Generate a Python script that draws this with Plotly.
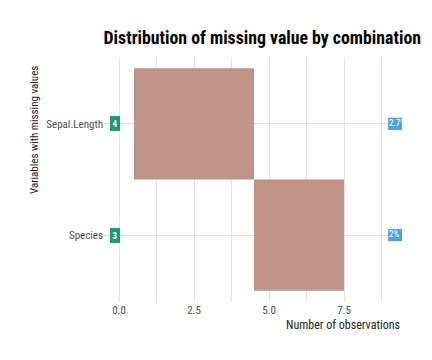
import plotly.graph_objects as go

variables = ["Sepal.Length", "Species"]
counts = [4, 3]
pct_labels = ["2.7%", "2%"]
row_pos = [2, 1]
bar_start = [0.5, 4.5]
x_tick_vals = [0, 2.5, 5, 7.5]
x_tick_text = ["0.0", "2.5", "5.0", "7.5"]

FONT = "Roboto Condensed, Liberation Sans Narrow, DejaVu Sans Condensed, Roboto, sans-serif"

fig = go.Figure()

fig.add_trace(go.Bar(
    y=row_pos, x=counts, base=bar_start, orientation="h", width=1,
    marker=dict(color="#bf9388", line=dict(width=0)), showlegend=False,
    hoverinfo="skip",
))

# right-hand percentage badges (clipped at the panel edge)
fig.add_trace(go.Bar(
    y=row_pos, x=[1.2, 1.2], base=[8.97, 8.97], orientation="h", width=0.11,
    marker=dict(color="#4ea3de", line=dict(width=0)), showlegend=False,
    hoverinfo="skip",
))
fig.add_trace(go.Scatter(
    y=row_pos, x=[9.0, 9.0], mode="text", text=pct_labels,
    textposition="middle right", cliponaxis=True,
    textfont=dict(family=FONT, size=9, color="white"), showlegend=False,
    hoverinfo="skip",
))

for v, c in zip(row_pos, counts):
    fig.add_annotation(
        x=-0.13, y=v, text=f"<b>{c}</b>", showarrow=False,
        bgcolor="#1f9b6c", bordercolor="#1f9b6c", borderpad=1.5,
        font=dict(family=FONT, size=9, color="white"),
        xanchor="center", yanchor="middle",
    )

fig.update_layout(
    width=432, height=360,
    margin=dict(l=96, r=38, t=49, b=66),
    paper_bgcolor="white", plot_bgcolor="white",
    barmode="overlay",
    font=dict(family=FONT, size=11, color="#222"),
    title=dict(text="<b>Distribution of missing value by combination</b>",
               x=0.956, xanchor="right", y=0.917, yanchor="middle",
               font=dict(family=FONT, size=17.8, color="black")),
    xaxis=dict(
        range=[-0.5, 9.433], tickvals=x_tick_vals, ticktext=x_tick_text,
        showgrid=True, gridcolor="#e3e3e3", gridwidth=1, zeroline=False,
        minor=dict(dtick=1.25, tick0=0, showgrid=True, gridcolor="#e3e3e3", gridwidth=1),
        tickfont=dict(family=FONT, size=11, color="#4d4d4d"), ticks="",
        showline=False,
    ),
    yaxis=dict(
        range=[0.4, 2.6], tickvals=row_pos, ticktext=variables,
        showgrid=True, gridcolor="#e0e0e0", gridwidth=1, zeroline=False,
        tickfont=dict(family=FONT, size=11, color="#4d4d4d"), ticks="",
        showline=False,
    ),
)

fig.add_annotation(x=1.0, y=-0.056, xref="paper", yref="paper",
                   text="Number of observations", showarrow=False,
                   xanchor="right", yanchor="top",
                   font=dict(family=FONT, size=12, color="#222"))
fig.add_annotation(x=-0.235, y=0.702, xref="paper", yref="paper",
                   text="Variables with missing values", showarrow=False,
                   textangle=-90, xanchor="center", yanchor="middle",
                   font=dict(family=FONT, size=11, color="#222"))

fig.write_html("out.html")
